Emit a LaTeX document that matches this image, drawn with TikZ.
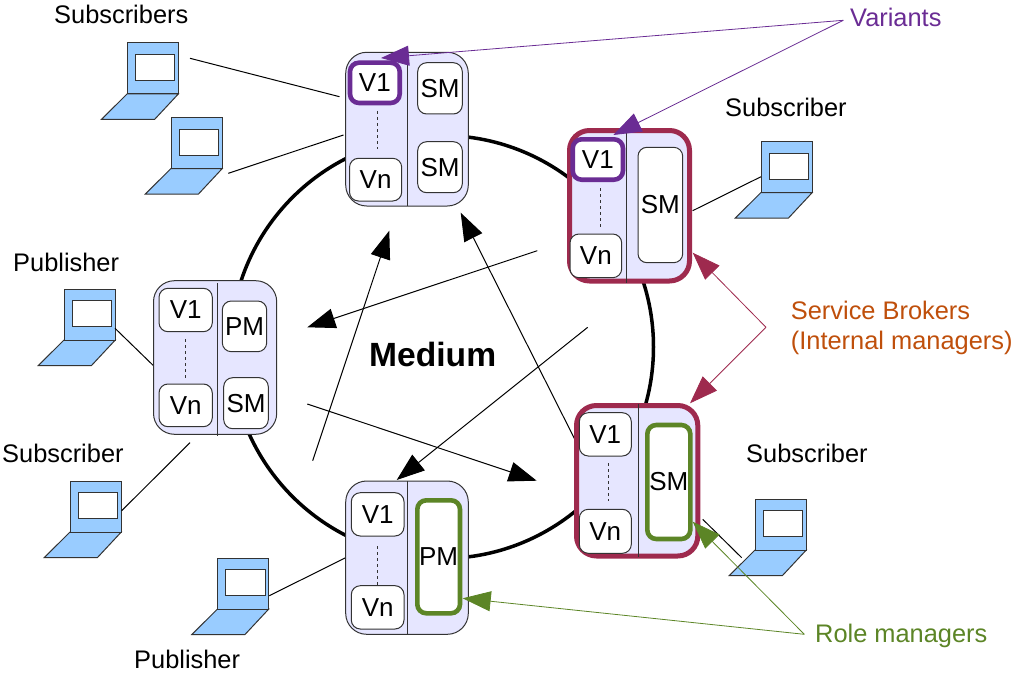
\documentclass[tikz,border=0pt]{standalone}
\usepackage{fontspec}
\setmainfont{Liberation Sans}
\usetikzlibrary{arrows.meta}
\definecolor{modfill}{HTML}{E6E6FF}
\definecolor{lapfill}{HTML}{99CCFF}
\definecolor{purp}{HTML}{6A2C94}
\definecolor{maroon}{HTML}{9E2A4E}
\definecolor{grn}{HTML}{5C8526}
\definecolor{orng}{HTML}{BF4F0B}
\definecolor{dk}{HTML}{333333}
\tikzset{
  lab/.style={font=\fontsize{25.4}{30}\selectfont,inner sep=0pt,anchor=base west},
  modbox/.style={draw=dk,line width=1pt,fill=modfill,rounded corners=21pt,inner sep=0pt},
  brokerbox/.style={draw=maroon,line width=5pt,fill=modfill,rounded corners=20pt,inner sep=0pt},
  inbox/.style={draw=dk,line width=1pt,fill=white,rounded corners=9pt,inner sep=0pt,font=\fontsize{26}{30}\selectfont},
  variantbox/.style={inbox,draw=purp,line width=4.6pt},
  rolebox/.style={inbox,draw=grn,line width=4.6pt},
  divider/.style={draw=dk,line width=1pt},
  dotline/.style={draw=dk,line width=1pt,dash pattern=on 3pt off 3pt},
  wire/.style={draw=black,line width=1pt},
  flow/.style={draw=black,line width=1pt,-{Triangle[length=28pt,width=20pt]}},
  callv/.style={draw=purp,line width=.8pt,-{Triangle[length=28pt,width=20pt,fill=purp]}},
  callb/.style={draw=maroon,line width=.8pt,-{Triangle[length=28pt,width=20pt,fill=maroon]}},
  callr/.style={draw=grn,line width=.8pt,-{Triangle[length=28pt,width=20pt,fill=grn]}},
  lapshape/.style={draw=dk,line width=1pt,fill=lapfill,line join=miter},
}
% name, x1,y1,x2,y2, style, text
\newcommand{\mybox}[7]{\node[#6,minimum width={(#4-#2)*1pt},minimum height={(#5-#3)*1pt}] (#1) at ({(#2+#4)/2},{(#3+#5)/2}) {#7};}
% name, x, y (top-left of the screen)
\newcommand{\laptop}[3]{%
  \begin{scope}[shift={(#2,#3)}]
    \coordinate (#1) at (0,0);
    \path[lapshape] (0,51) -- (51.3,51) -- (27.5,76.5) -- (-25.6,76.5) -- cycle;
    \path[lapshape] (0,0) rectangle (51.3,51);
    \path[lapshape,fill=white] (8.3,11.5) rectangle (47.5,37.5);
  \end{scope}}
% name, x1,y1, x2,y2, style
\newcommand{\conn}[6]{\coordinate (#1a) at (#2,#3); \coordinate (#1b) at (#4,#5); \path[#6] (#1a) -- (#1b);}
\begin{document}
\begin{tikzpicture}[x=1pt,y=-1pt]
\useasboundingbox (0,0) rectangle (1013,677);
% medium ring
\node[circle,draw=black,line width=3.5pt,minimum size=423pt,inner sep=0pt] (ring) at (442,347) {};
% laptops
\laptop{lapA}{127}{43}
\laptop{lapB}{171}{117.5}
\laptop{lapC}{64}{289}
\laptop{lapD}{70}{481}
\laptop{lapE}{217.5}{558}
\laptop{lapF}{761}{141.5}
\laptop{lapG}{755}{499}
% wires
\conn{wA}{190}{58.3}{339.5}{96.7}{wire}
\conn{wB}{228.3}{173.3}{343.5}{135}{wire}
\conn{wC}{115}{328.3}{153.5}{365.7}{wire}
\conn{wD}{121.7}{510.7}{190}{442.7}{wire}
\conn{wE}{269.3}{595.7}{345.7}{557.7}{wire}
\conn{wF}{692.7}{210.7}{761}{176.7}{wire}
\conn{wG}{702.7}{519.3}{741.7}{557.7}{wire}
% flows
\conn{fA}{537.3}{250.7}{307.3}{327.3}{flow}
\conn{fB}{312.7}{460.7}{389.3}{230.7}{flow}
\conn{fC}{576}{441.7}{460.7}{212.7}{flow}
\conn{fD}{587.7}{327.3}{396.7}{480}{flow}
\conn{fE}{307.3}{404}{536.7}{480.7}{flow}
% top module
\mybox{mT}{345.7}{52.3}{468.3}{206}{modbox}{}
\conn{dT}{407.7}{52.3}{407.7}{206}{divider}
\conn{vT}{377.3}{111}{377.3}{149}{dotline}
\mybox{mTv}{350}{62.7}{399.7}{103}{variantbox}{V1}
\mybox{mTn}{349.5}{158.3}{401.7}{201}{inbox}{Vn}
\mybox{mTs}{417.7}{62.7}{462.3}{114}{inbox}{SM}
\mybox{mTt}{417.7}{141.7}{462.3}{192.7}{inbox}{SM}
% upper right module
\mybox{mU}{569.5}{130.5}{689.5}{281}{brokerbox}{}
\conn{dU}{626.3}{133}{626.3}{283}{divider}
\conn{vU}{600}{188}{600}{228}{dotline}
\mybox{mUv}{572.7}{139.3}{623}{179.7}{variantbox}{V1}
\mybox{mUn}{570}{234}{621.7}{277.7}{inbox}{Vn}
\mybox{mUs}{638}{147.3}{682.7}{262.7}{inbox}{SM}
% lower right module
\mybox{mV}{576.5}{405.5}{697.8}{556}{brokerbox}{}
\conn{dV}{638.7}{403.5}{638.7}{557}{divider}
\conn{vV}{608}{463}{608}{501}{dotline}
\mybox{mVv}{579.3}{412.7}{631.3}{456}{inbox}{V1}
\mybox{mVn}{579.3}{509.3}{631.3}{553.3}{inbox}{Vn}
\mybox{mVs}{647.3}{425}{690.3}{539}{rolebox}{SM}
% left module
\mybox{mL}{153.5}{280.7}{276.7}{434.3}{modbox}{}
\conn{dL}{217.7}{283}{217.7}{436}{divider}
\conn{vL}{185.7}{339}{185.7}{378}{dotline}
\mybox{mLv}{159}{288.3}{212.3}{331.7}{inbox}{V1}
\mybox{mLn}{159}{384}{212.3}{426.7}{inbox}{Vn}
\mybox{mLp}{222.3}{301}{266.7}{351.7}{inbox}{PM}
\mybox{mLs}{223.7}{377.7}{268.3}{428.7}{inbox}{SM}
% bottom module
\mybox{mB}{345.7}{481}{468.3}{634.3}{modbox}{}
\conn{dB}{407.7}{481}{407.7}{634.3}{divider}
\conn{vB}{377.5}{546}{377.5}{585}{dotline}
\mybox{mBv}{351.3}{492.7}{404}{536}{inbox}{V1}
\mybox{mBn}{351.3}{585.7}{404}{629}{inbox}{Vn}
\mybox{mBp}{417.3}{500.3}{460}{613.3}{rolebox}{PM}
% labels
\node[lab] (t1) at (54,24) {Subscribers};
\node[lab] (t2) at (725,116.7) {Subscriber};
\node[lab] (t3) at (13,271) {Publisher};
\node[lab] (t4) at (2,462.7) {Subscriber};
\node[lab] (t5) at (746,462.7) {Subscriber};
\node[lab] (t6) at (134,668) {Publisher};
\node[lab,text=purp] (t7) at (850,26.7) {Variants};
\node[lab,text=orng] (t8) at (790.7,319.3) {Service Brokers};
\node[lab,text=orng] (t9) at (790.7,349) {(Internal managers)};
\node[lab,text=grn] (t10) at (815,642) {Role managers};
\node[lab,font=\fontsize{33.6}{40}\selectfont\bfseries] (t11) at (369,366.7) {Medium};
% callouts
\coordinate (apexV) at (843.3,20.3);
\coordinate (apexS) at (766,327.3);
\coordinate (apexR) at (804.3,634.3);
\coordinate (tipV1) at (381,58);
\coordinate (tipV2) at (613.3,135);
\coordinate (tipS1) at (692.7,252.7);
\coordinate (tipS2) at (690,403.3);
\coordinate (tipR1) at (692.7,521.7);
\coordinate (tipR2) at (462.7,598.3);
\path[callv] (apexV) -- (tipV1);
\path[callv] (apexV) -- (tipV2);
\path[callb] (apexS) -- (tipS1);
\path[callb] (apexS) -- (tipS2);
\path[callr] (apexR) -- (tipR1);
\path[callr] (apexR) -- (tipR2);
\end{tikzpicture}
\end{document}
